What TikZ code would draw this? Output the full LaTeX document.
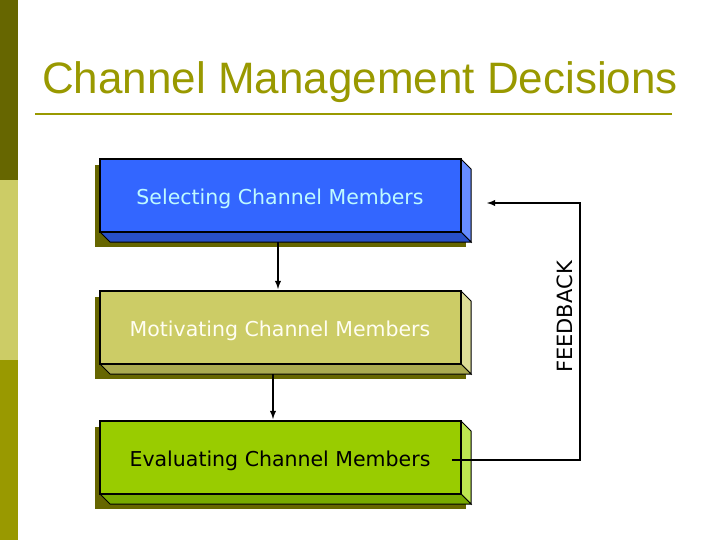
\documentclass[tikz,border=0pt]{standalone}
\usepackage{fontspec}
\setmainfont{Liberation Sans}
\newfontfamily\boxfont{DejaVu Sans}
\begin{document}
\begin{tikzpicture}[x=1pt,y=-1pt,
  lbl/.style={font=\boxfont\fontsize{20.5}{24}\selectfont},
  conn/.style={draw=black,line width=1.8pt,-latex}]
\useasboundingbox (0,0) rectangle (720,540);
\fill[white] (0,0) rectangle (720,540);
\definecolor{l1}{RGB}{102,102,0}
\definecolor{l2}{RGB}{204,204,102}
\definecolor{l3}{RGB}{153,153,0}
\fill[l1] (0,0) rectangle (18,180);
\fill[l2] (0,180) rectangle (18,360);
\fill[l3] (0,360) rectangle (18,540);
\definecolor{ttl}{RGB}{153,153,0}
\node[text=ttl,font=\fontsize{44}{48}\selectfont] (title) at (360,82) {Channel Management Decisions};
\draw[ttl,line width=2pt] (35,114) -- (672,114);
\newcommand\bbox[7]{% y, front, side, bottom, textcolor, text, name
  \fill[l1] (95,#1+6) rectangle (466,#1+88);
  \filldraw[fill=#3,draw=black,line width=1pt] (461,#1) -- (471,#1+10) -- (471,#1+83) -- (461,#1+73) -- cycle;
  \filldraw[fill=#4,draw=black,line width=1pt] (100,#1+73) -- (461,#1+73) -- (471,#1+83) -- (110,#1+83) -- cycle;
  \filldraw[fill=#2,draw=black,line width=1.5pt] (100,#1) rectangle (461,#1+73);
  \node[lbl,text=#5] (#7) at (280,#1+40) {#6};
}
\definecolor{b1}{RGB}{51,102,255}
\definecolor{b1s}{RGB}{102,140,255}
\definecolor{b1b}{RGB}{40,80,200}
\definecolor{b2}{RGB}{204,204,102}
\definecolor{b2s}{RGB}{220,220,150}
\definecolor{b2b}{RGB}{170,170,80}
\definecolor{b3}{RGB}{153,204,0}
\definecolor{b3s}{RGB}{190,230,80}
\definecolor{b3b}{RGB}{120,170,0}
\definecolor{t1}{RGB}{190,250,255}
\bbox{159}{b1}{b1s}{b1b}{t1}{Selecting Channel Members}{sel}
\bbox{291}{b2}{b2s}{b2b}{white!95!yellow}{Motivating Channel Members}{mot}
\bbox{421}{b3}{b3s}{b3b}{black}{Evaluating Channel Members}{eva}
\coordinate (a1) at (278,242);
\coordinate (a2) at (278,289);
\coordinate (c1) at (273,374);
\coordinate (c2) at (273,419);
\draw[conn] (a1) -- (a2);
\draw[conn] (c1) -- (c2);
\coordinate (f0) at (452,460);
\coordinate (f1) at (580,460);
\coordinate (f2) at (580,203);
\coordinate (f3) at (487,203);
\draw[conn] (f0) -- (f1) -- (f2) -- (f3);
\node[font=\boxfont\fontsize{21}{24}\selectfont,rotate=90] (fb) at (565,317) {FEEDBACK};
\end{tikzpicture}
\end{document}
